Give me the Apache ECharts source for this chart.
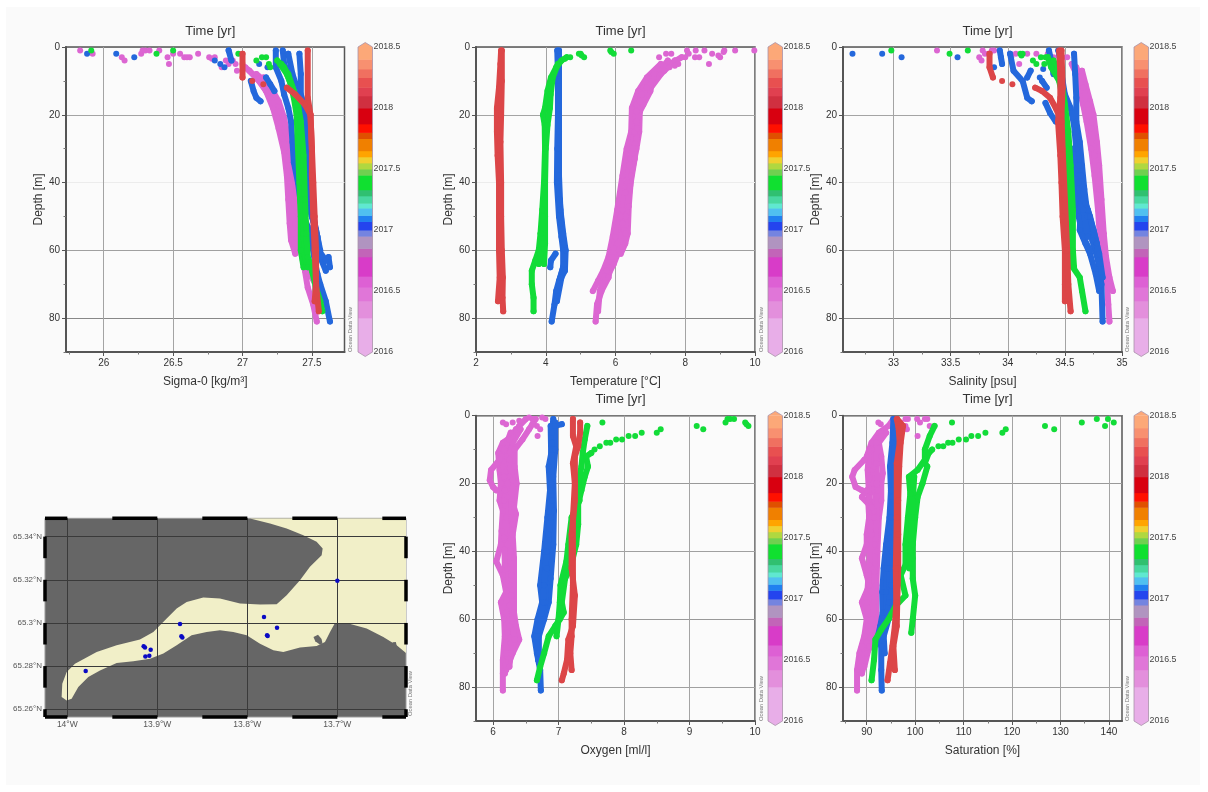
<!DOCTYPE html>
<html><head><meta charset="utf-8">
<style>
html,body{margin:0;padding:0;background:#fff}
#back{position:absolute;left:6px;top:7px;width:1194px;height:778px;background:#fafafa}
#chart{position:absolute;left:0;top:0;width:1208px;height:792px;filter:blur(0.45px)}
</style>
<script src="https://cdn.jsdelivr.net/npm/echarts@6/dist/echarts.min.js"></script>
</head><body><div id="back"></div><div id="chart"></div>
<script>
// ---- Sigma-0 profiles: [value, depth]
const sigmaPink=[
[[27.02,6],[27.1,9],[27.17,13],[27.22,18],[27.26,24],[27.3,31],[27.32,38],[27.33,45],[27.34,52],[27.35,57],[27.38,61]],
[[27.1,8],[27.19,11],[27.26,16],[27.3,21],[27.33,27],[27.36,34],[27.38,40],[27.39,47],[27.4,54],[27.42,60],[27.45,66],[27.47,71],[27.51,76],[27.535,81]],
[[27.15,9],[27.22,14],[27.27,19],[27.31,25],[27.34,31],[27.36,38],[27.37,46],[27.37,55],[27.4,60]],
[[27.05,7],[27.14,11],[27.2,15],[27.25,21],[27.29,27],[27.33,35],[27.35,42],[27.36,50],[27.37,58]],
[[27.46,66],[27.5,68],[27.55,72]]];
const sigmaPinkDots=[[25.83,1],[25.92,2],[26.13,3],[26.15,4],[26.27,2],[26.28,1],[26.3,1],[26.33,1],[26.4,1],[26.46,3],[26.47,5],[26.5,2],[26.55,2],[26.58,3],[26.6,3],[26.62,3],[26.68,2],[26.76,3],[26.78,3.5],[26.8,3],[26.85,6],[26.88,4],[26.9,5],[26.93,4],[26.95,5],[26.96,7],[27.0,5]];
const sigmaBlue=[
[[27.24,1],[27.24,6],[27.28,10],[27.3,14],[27.33,18],[27.35,22],[27.36,28],[27.37,34],[27.4,40],[27.42,46],[27.44,50],[27.47,53],[27.5,58],[27.52,63],[27.54,67],[27.56,70],[27.6,75],[27.63,81]],
[[27.29,1],[27.3,5],[27.35,10],[27.38,15],[27.4,20],[27.42,26],[27.44,33],[27.46,40],[27.47,46],[27.5,50],[27.54,56],[27.56,62],[27.6,66]],
[[27.33,2],[27.36,8],[27.4,13],[27.44,18],[27.46,22],[27.46,30],[27.47,38],[27.48,45],[27.5,50],[27.53,54],[27.55,60],[27.6,63],[27.62,62],[27.63,65]],
[[27.41,2],[27.42,8],[27.42,14],[27.45,18],[27.47,24],[27.48,30],[27.49,40],[27.5,47],[27.52,52],[27.56,60]],
[[27.06,10],[27.08,13],[27.1,15],[27.13,16]],
[[27.17,9],[27.2,11],[27.23,13]],
[[26.9,1],[26.92,4]]];
const sigmaBlueDots=[[26.09,2],[26.22,3],[25.88,2],[26.8,4],[26.84,5],[26.87,6],[27.12,5],[27.18,6]];
const sigmaGreen=[
[[27.25,4],[27.3,6],[27.34,10],[27.37,15],[27.39,20],[27.4,30],[27.41,40],[27.42,50],[27.42,60],[27.44,65]],
[[27.27,5],[27.32,8],[27.36,12],[27.39,17],[27.41,25],[27.42,35],[27.43,45],[27.44,55],[27.45,62],[27.47,65]],
[[27.28,5],[27.33,8],[27.37,13],[27.4,17],[27.42,22],[27.44,32],[27.45,45],[27.46,55],[27.47,62],[27.5,65]],
[[27.5,66],[27.53,71],[27.56,75],[27.575,78]]];
const sigmaGreenDots=[[25.91,1],[26.38,2],[26.5,1],[27.1,4],[27.14,3],[27.17,3],[26.97,2],[27.19,5],[27.2,6]];
const sigmaRed=[
[[27.0,2],[27.0,9]],
[[27.47,1],[27.47,15],[27.49,20],[27.5,30],[27.51,40],[27.52,50],[27.53,60],[27.53,70],[27.52,75]],
[[27.32,12],[27.38,14],[27.45,17],[27.49,20],[27.5,30],[27.5,38],[27.51,50],[27.52,60],[27.53,70],[27.55,78]]];
const sigmaRedDots=[[27.07,10],[27.15,11]];

// ---- Temperature profiles
const tempPink=[
[[7.3,5],[6.9,9],[6.65,13],[6.47,18],[6.45,25],[6.32,30],[6.2,38],[6.05,48],[5.92,56],[5.8,62],[5.65,66],[5.5,69],[5.35,72]],
[[7.5,4],[7.1,9],[6.8,12],[6.7,18],[6.68,25],[6.6,30],[6.45,38],[6.38,47],[6.35,55],[6.28,58],[6.15,61]],
[[7.3,7],[7.05,10],[7.0,13],[6.8,17],[6.7,19]],
[[7.7,4],[7.3,8],[6.8,15],[6.6,22],[6.5,30],[6.35,40],[6.2,48],[6.0,56],[5.85,65],[5.8,68],[5.6,72],[5.47,76],[5.43,81]],
[[7.9,3],[7.1,8],[6.6,17],[6.55,25],[6.4,35],[6.3,43],[6.2,52],[6.1,60],[5.95,64],[5.7,69]],
[[7.0,11],[6.75,14],[6.6,19],[6.6,27],[6.43,33],[6.28,43],[6.15,50],[6.25,54],[6.05,58],[5.9,62],[5.75,66],[5.55,72],[5.5,78]],
[[7.45,6],[6.9,12],[6.7,16],[6.62,24],[6.55,33],[6.42,41],[6.3,50],[6.28,55],[6.2,59]]];
const tempPinkDots=[[9.98,1],[9.43,1],[9.12,1],[9.1,1.5],[9.0,3],[8.95,2.5],[8.77,2],[8.68,5],[8.55,1],[8.4,3],[8.3,1],[8.28,3],[8.05,1],[8.1,2],[8.0,3],[7.6,2],[7.45,2],[7.25,3],[7.8,5],[7.7,5.5],[7.55,6],[7.4,7]];
const tempBlue=[
[[4.33,1],[4.35,8],[4.35,20],[4.33,30],[4.32,40],[4.38,50],[4.45,56],[4.5,60],[4.5,65],[4.38,69],[4.3,72],[4.25,76],[4.17,81]],
[[4.38,1],[4.38,10],[4.38,25],[4.38,38],[4.42,48],[4.5,55],[4.57,60],[4.55,66],[4.45,68],[4.32,75]],
[[4.4,45],[4.45,52],[4.52,58],[4.52,64],[4.42,68]],
[[4.28,61],[4.15,63],[4.13,65]]];
const tempBlueDots=[];
const tempGreen=[
[[4.6,3],[4.45,4],[4.3,6],[4.15,9],[4.05,13],[3.98,18],[3.92,20],[3.97,23],[3.98,30],[3.95,40],[3.9,48],[3.85,55],[3.8,60],[3.7,63],[3.6,66],[3.6,70],[3.65,74],[3.65,78]],
[[4.35,5],[4.2,9],[4.14,14],[4.12,18],[4.05,23],[4.0,30],[3.98,40],[3.98,50],[3.98,58],[3.95,64]],
[[3.92,50],[3.9,58],[3.85,61],[3.8,64]]];
const tempGreenDots=[[5.0,2],[5.03,2.5],[5.1,3],[4.95,2],[4.7,3],[4.55,3.5],[5.85,1],[5.88,1.5],[5.95,2],[6.45,1]];
const tempRed=[
[[2.72,1],[2.7,5],[2.66,12],[2.6,18],[2.6,25],[2.62,32],[2.66,40],[2.66,50],[2.66,60],[2.68,68],[2.63,75]],
[[2.74,1],[2.74,10],[2.72,20],[2.7,28],[2.72,40],[2.72,50],[2.74,60],[2.77,68],[2.76,74],[2.78,78]]];
const tempRedDots=[];

// ---- Salinity profiles
const salPink=[
[[34.56,5],[34.6,8],[34.63,13],[34.66,17],[34.69,22],[34.73,30],[34.76,38],[34.79,48],[34.81,58],[34.84,64],[34.87,70],[34.88,76],[34.89,81]],
[[34.65,7],[34.68,11],[34.72,16],[34.75,20],[34.78,28],[34.8,35],[34.82,45],[34.84,55],[34.86,62],[34.89,68],[34.92,72]],
[[34.6,6],[34.66,12],[34.7,17],[34.73,24],[34.76,32],[34.8,42],[34.82,52],[34.84,60],[34.87,66],[34.89,71]]];
const salPinkDots=[[33.38,1],[33.75,3],[33.77,4],[33.78,1],[33.8,2],[33.83,2],[33.86,1],[33.88,1],[34.02,2],[34.03,3],[34.07,2],[34.1,5],[34.17,2],[34.25,2],[34.35,2],[34.4,3],[34.48,3],[34.52,3]];
const salBlue=[
[[34.58,2],[34.59,8],[34.6,15],[34.6,22],[34.63,28],[34.65,35],[34.67,42],[34.7,50],[34.74,57],[34.79,63],[34.82,70],[34.83,81]],
[[34.45,2],[34.47,8],[34.5,14],[34.55,18],[34.58,23],[34.6,30],[34.62,38],[34.64,47],[34.63,54],[34.68,58],[34.72,61],[34.77,67],[34.8,72]],
[[34.36,1],[34.38,4],[34.4,8]],
[[34.33,16.5],[34.37,19.5],[34.42,22]],
[[34.6,25],[34.62,35],[34.66,45],[34.7,48],[34.75,54],[34.8,61],[34.83,68]],
[[34.57,30],[34.6,40],[34.62,50],[34.66,56],[34.72,60]],
[[34.62,40],[34.66,48],[34.7,56]],
[[34.64,38],[34.68,46],[34.72,50],[34.78,58],[34.8,64]],
[[33.93,1],[33.94,3],[33.95,5]],
[[34.02,2],[34.05,7],[34.13,10],[34.17,15],[34.21,16]],
[[34.2,7],[34.17,9]],
[[34.3,10],[34.34,12]]];
const salBlueDots=[[32.64,2],[32.9,2],[33.07,3],[33.56,3],[34.28,9],[34.31,6.5],[33.88,6],[34.44,1]];
const salGreen=[
[[34.35,3],[34.38,6],[34.45,10],[34.48,15],[34.5,20],[34.52,30],[34.53,40],[34.54,50],[34.55,60],[34.57,65],[34.63,68],[34.65,72],[34.68,78]],
[[34.4,4],[34.47,10],[34.5,17],[34.53,25],[34.55,35],[34.57,48],[34.57,60],[34.58,65]]];
const salGreenDots=[[32.98,1],[33.49,2],[33.65,1],[34.11,2],[34.12,2.5],[34.13,2],[34.22,4],[34.29,3],[34.33,3],[34.25,5],[34.32,5]];
const salRed=[
[[34.45,1],[34.46,8],[34.46,15],[34.44,22],[34.46,32],[34.47,40],[34.48,50],[34.5,60],[34.5,70],[34.5,75]],
[[34.47,1],[34.48,12],[34.47,20],[34.48,30],[34.5,45],[34.52,60],[34.53,70],[34.55,78]],
[[33.84,2],[33.84,6],[33.87,9]],
[[34.24,12],[34.3,13],[34.37,15],[34.42,18],[34.47,22]]];
const salRedDots=[[33.95,10],[34.04,11]];

// ---- Oxygen profiles
const oxyPink=[
[[6.5,1],[6.4,3],[6.3,6],[6.15,8],[6.08,11],[6.1,16],[6.12,20],[6.1,25],[6.15,28],[6.13,34],[6.12,38],[6.05,43],[6.15,47],[6.2,52],[6.12,55],[6.17,60],[6.18,65],[6.15,72],[6.15,76],[6.15,81]],
[[6.65,1],[6.55,4],[6.45,7],[6.33,10],[6.33,15],[6.36,20],[6.32,27],[6.35,29],[6.3,35],[6.32,42],[6.32,50],[6.32,58],[6.35,62],[6.4,66],[6.3,70],[6.2,75]],
[[6.35,4],[6.22,8],[6.2,12],[6.25,18],[6.22,24],[6.25,30],[6.22,38],[6.22,45],[6.25,50],[6.25,56],[6.25,62],[6.27,67],[6.22,71]],
[[6.42,4],[6.3,8],[6.25,13],[6.3,19],[6.28,26],[6.3,32],[6.27,40],[6.28,47],[6.28,53],[6.29,60],[6.33,66],[6.27,70],[6.25,74]],
[[6.25,7],[6.13,12],[6.17,18],[6.18,22],[6.2,30],[6.17,36],[6.18,44],[6.2,49],[6.2,58],[6.22,64],[6.2,70],[6.18,76]],
[[6.1,13],[5.97,16],[5.95,19],[6.0,21],[6.05,22]],
[[6.27,5],[6.17,10],[6.15,15],[6.22,20],[6.17,25]]];
const oxyPinkDots=[[6.15,2],[6.2,2.5],[6.3,2],[6.4,1.5],[6.55,0.5],[6.6,1],[6.67,3],[6.75,0.5],[6.68,6],[6.72,4],[6.8,1],[6.6,2.5]];
const oxyBlue=[
[[6.92,1],[6.9,5],[6.9,10],[6.85,15],[6.87,22],[6.83,30],[6.78,40],[6.72,50],[6.75,55],[6.68,60],[6.63,65],[6.67,70],[6.72,75],[6.73,81]],
[[6.95,2],[6.95,10],[6.92,18],[6.93,28],[6.92,38],[6.88,48],[6.85,55],[6.78,60],[6.7,65],[6.7,70]],
[[6.88,3],[6.9,25],[6.85,35],[6.82,45],[6.8,55],[6.72,62]],
[[6.9,8],[6.88,20],[6.88,30],[6.82,40],[6.78,50],[6.77,55],[6.72,60],[6.66,65],[6.69,72]],
[[6.95,3],[7.05,2.5]]];
const oxyBlueDots=[];
const oxyGreen=[
[[7.5,11],[7.42,12],[7.45,15],[7.4,18],[7.35,22],[7.3,26],[7.3,32],[7.27,38],[7.18,45],[7.1,48],[7.05,55],[7.08,58],[7.02,60],[6.95,62],[6.85,65],[6.78,70],[6.72,74],[6.67,78]],
[[7.44,3],[7.4,7],[7.37,11],[7.35,15],[7.3,20],[7.32,25],[7.2,30],[7.15,38],[7.12,43],[7.03,50],[7.02,55],[7.0,60],[6.97,65]]];
const oxyGreenDots=[[9.9,3],[9.87,2.5],[9.85,2],[9.68,1],[9.62,1],[9.58,1],[9.55,2],[9.21,4],[9.11,3],[8.56,4],[8.5,5],[8.27,5],[8.17,6],[8.07,6],[7.97,7],[7.88,7],[7.79,8],[7.73,8],[7.63,9],[7.55,10],[7.67,2]];
const oxyRed=[
[[7.22,1],[7.22,6],[7.27,9],[7.22,14],[7.25,20],[7.22,30],[7.22,40],[7.22,50],[7.2,60],[7.2,65],[7.18,70],[7.2,75]],
[[7.33,2],[7.33,5],[7.3,9],[7.25,12],[7.25,25],[7.2,35],[7.2,45],[7.25,53],[7.22,62],[7.15,66],[7.13,72],[7.08,76],[7.05,78]]];
const oxyRedDots=[];

// ---- Saturation profiles
const satPink=[
[[95.5,1],[94.5,3],[92.5,5],[91,8],[90,12],[91,16],[91.3,20],[90.3,25],[90.5,30],[90,35],[90,38],[89,42],[90,47],[90.5,50],[89,55],[90,60],[89.5,65],[88.5,70],[88,75],[88,81]],
[[94,5],[92.5,8],[93,12],[93.3,17],[93,20],[93,25],[92.5,30],[92.2,40],[92,50],[92,60],[91.5,66],[90,70],[89,76]],
[[93,6],[91,10],[91.5,15],[92,20],[91.5,28],[91,35],[91,45],[91,52],[91,60],[90,67],[89,72]],
[[92,8],[92,14],[92.3,22],[92,30],[91.7,38],[91.6,46],[91.5,55],[91,63],[90.5,68],[89.5,74]],
[[90.5,10],[90.2,16],[90.5,24],[90.7,34],[90.5,44],[90,55],[90.3,62],[89,68],[88.7,74]],
[[89.5,13],[87.5,16],[87,18],[87.7,21],[89,22]],
[[90,22],[89,24],[91,27],[91.5,30]]];
const satPinkDots=[[92.4,2],[92.9,2.5],[98,1],[98.5,1],[98,3],[98.3,4],[97,3],[100.4,1],[101,2],[102,1],[102.5,1],[103,3],[100.5,6],[97,2]];
const satBlue=[
[[95.5,1],[95.3,8],[94.8,15],[95,22],[94.7,30],[94,38],[93.5,45],[93.2,52],[93.3,58],[92.8,62],[92.3,65],[93,68],[93,75],[93.1,81]],
[[95.8,5],[95.8,15],[95.6,25],[95.6,33],[95.2,40],[95,50],[95,55],[94.5,60],[93.5,65],[93.7,70]],
[[95,30],[94.5,38],[94.2,45],[94,52],[94,58]],
[[95.3,24],[94.9,36],[94.7,45],[94.6,55],[94,61]]];
const satBlueDots=[];
const satGreen=[
[[103.5,10],[102.8,11],[102,14],[102.5,15],[101.5,20],[100.5,24],[100,30],[99.5,38],[99.5,42],[99.5,48],[100,53],[99.5,60],[99.2,64]],
[[104,3],[103,6],[102,10],[102,13],[100.5,16],[98.7,18],[99,23],[98.5,30],[98,38],[98,44],[97,47],[98,53],[96,56],[94.5,60],[93,63],[91.8,66],[91.5,72],[91,78]],
[[99.8,18],[99.3,30],[99,40],[98.8,45]]];
const satGreenDots=[[141,2],[139.8,1],[139.2,3],[137.5,1],[134.4,2],[128.7,4],[126.8,3],[118.7,4],[118,5],[114.5,5],[113,6],[111.6,6],[110.5,7],[109,7],[107.7,8],[106.8,8],[105.8,9],[104.8,9],[107.6,2]];
const satRed=[
[[96.3,1],[97.5,3],[97,8],[96.7,15],[96.5,25],[96.5,35],[96.5,45],[96.3,55],[96.2,62],[95.5,68],[95.8,75]],
[[96.5,2],[96.8,8],[96.2,14],[96.2,30],[96,45],[96.1,55],[95.8,62],[95.3,68],[94.8,73],[94.3,78]],
[[96.2,1],[96.8,5]]];
const satRedDots=[];

// ---- Axis ticks
const depthTicks=[0,20,40,60,80], depthMinor=[10,30,50,70,90];
const sigmaTicks=[26,26.5,27,27.5], sigmaMinor=[25.75,26.25,26.75,27.25];
const tempTicks=[2,4,6,8,10], tempMinor=[3,5,7,9];
const salTicks=[33,33.5,34,34.5,35], salMinor=[32.75,33.25,33.75,34.25,34.75];
const oxyTicks=[6,7,8,9,10], oxyMinor=[6.5,7.5,8.5,9.5];
const satTicks=[90,100,110,120,130,140], satMinor=[85.5,95,105,115,125,135];
const lonTicks=[-14,-13.9,-13.8,-13.7], latTicks=[65.26,65.28,65.3,65.32,65.34];

// ---- Colour scale
const timeTicks=[2016,2016.5,2017,2017.5,2018,2018.5];
const timeStops=[2016,2016.28,2016.42,2016.53,2016.62,2016.78,2016.85,2016.95,2017,2017.07,2017.12,2017.18,2017.22,2017.28,2017.33,2017.45,2017.5,2017.55,2017.6,2017.65,2017.75,2017.8,2017.87,2018,2018.1,2018.17,2018.25,2018.32,2018.4,2018.5];
const timeColors=['#e8aee8','#e38fdc','#e076d8','#dd60d4','#d83cc8','#c264b8','#b094c0','#7484e0','#2444ee','#2080f0','#50c0f0','#60e8d0','#48d8a0','#30c070','#10e030','#70d050','#b0d840','#f0d030','#ffa400','#f08000','#e05000','#ff1000','#d80010','#d03040','#e04050','#e85050','#f07060','#f89070','#fca878'];
const cruiseColors={pink:'#dc66d2',blue:'#2468dc',green:'#12dc38',red:'#dc4648'};

// ---- Station map (lon, lat)
const waterLon=[-13.797,-13.7748,-13.7563,-13.7378,-13.723,-13.7163,-13.7174,-13.7304,-13.7415,-13.7563,-13.7674,-13.7859,-13.8081,-13.8304,-13.8489,-13.8674,-13.8785,-13.8896,-13.9044,-13.9193,-13.9452,-13.9674,-13.9915,-14.0007,-14.0056,-14.0063,-14.0007,-13.9952,-13.9878,-13.9767,-13.9637,-13.9452,-13.9267,-13.9081,-13.8933,-13.8785,-13.8619,-13.8452,-13.8304,-13.8156,-13.8007,-13.7859,-13.7711,-13.76,-13.7415,-13.723,-13.7137,-13.7081,-13.7026,-13.6896,-13.6674,-13.6489,-13.6341,-13.6237,-13.6237];
const waterLat=[65.3484,65.3461,65.3438,65.3407,65.3376,65.3345,65.3314,65.326,65.3198,65.3128,65.3087,65.3085,65.309,65.3113,65.3118,65.3097,65.3067,65.302,65.2958,65.2923,65.2896,65.2865,65.2811,65.2773,65.2718,65.2657,65.2641,65.2649,65.2703,65.2749,65.278,65.2814,65.2822,65.2834,65.2858,65.2896,65.2943,65.2958,65.2966,65.2958,65.2943,65.2904,65.2873,65.2865,65.2886,65.2893,65.2912,65.2958,65.3,65.3,65.2974,65.2935,65.2896,65.2861,65.3484];
const islandLon=[[-13.7265,-13.7215,-13.7175,-13.7165,-13.7195,-13.7245],[-13.6385,-13.6350,-13.6340,-13.6365,-13.6395]];
const islandLat=[[65.2935,65.2945,65.2925,65.2905,65.29,65.2915],[65.2910,65.2912,65.2895,65.2885,65.2895]];
const stationLon=[-13.9796,-13.9152,-13.9137,-13.9074,-13.9133,-13.9089,-13.8748,-13.8733,-13.8722,-13.7815,-13.767,-13.7781,-13.7774,-13.7];
const stationLat=[65.2777,65.2892,65.2886,65.2876,65.2845,65.2848,65.2995,65.2938,65.2933,65.3028,65.2978,65.2943,65.294,65.3196];
const frameLonBlack=[[-14.0248,-14],[-13.95,-13.9],[-13.85,-13.8],[-13.75,-13.7],[-13.65,-13.6237]];
const frameLatBlack=[[65.34,65.33],[65.32,65.31],[65.3,65.29],[65.28,65.27],[65.26,65.2564]];

const panels=[
 {name:'Sigma-0 [kg/m³]',xr:[25.728,27.735],ticks:sigmaTicks,minor:sigmaMinor,l:66,r:344.5,t:47,b:352,bar:358,odv:350,gap:18,sets:[sigmaPink,sigmaPinkDots,sigmaBlue,sigmaBlueDots,sigmaGreen,sigmaGreenDots,sigmaRed,sigmaRedDots]},
 {name:'Temperature [°C]',xr:[2,10],ticks:tempTicks,minor:tempMinor,l:476,r:755,t:47,b:352,bar:768,odv:761,gap:17,sets:[tempPink,tempPinkDots,tempBlue,tempBlueDots,tempGreen,tempGreenDots,tempRed,tempRedDots]},
 {name:'Salinity [psu]',xr:[32.557,35],ticks:salTicks,minor:salMinor,l:843,r:1122,t:47,b:352,bar:1134,odv:1127,gap:18,sets:[salPink,salPinkDots,salBlue,salBlueDots,salGreen,salGreenDots,salRed,salRedDots]},
 {name:'Oxygen [ml/l]',xr:[5.74,10],ticks:oxyTicks,minor:oxyMinor,l:476,r:755,t:415.7,b:721,bar:768,odv:761,gap:17,sets:[oxyPink,oxyPinkDots,oxyBlue,oxyBlueDots,oxyGreen,oxyGreenDots,oxyRed,oxyRedDots]},
 {name:'Saturation [%]',xr:[85.1,142.7],ticks:satTicks,minor:satMinor,l:843,r:1122,t:415.7,b:721,bar:1134,odv:1127,gap:18,sets:[satPink,satPinkDots,satBlue,satBlueDots,satGreen,satGreenDots,satRed,satRedDots]}
];

const FONT='"Liberation Sans",Arial,sans-serif';
const grids=[],xAxes=[],yAxes=[],series=[],titles=[],graphics=[];
const cruiseOrder=['pink','blue','green','red'];
const FULLW=1208,FULLH=792;

function odvText(x,yBottom){
  graphics.push({type:'text',x:x,y:yBottom,rotation:Math.PI/2,silent:true,
    style:{text:'Ocean Data View',fontSize:5.8,fontFamily:FONT,fill:'#777'}});
}

panels.forEach(function(p,i){
  const g=grids.length;
  const topRow=p.t<100;
  grids.push({left:p.l,top:p.t,width:p.r-p.l,height:p.b-p.t,show:true,backgroundColor:'#fbfbfb',borderColor:'#555',borderWidth:1.5});
  const xi=xAxes.length, yi=yAxes.length;
  xAxes.push({gridIndex:g,type:'value',position:'bottom',min:p.xr[0],max:p.xr[1],name:p.name,nameLocation:'middle',nameGap:24,
    nameTextStyle:{fontSize:12,fontFamily:FONT,color:'#333'},
    axisLine:{show:true,onZero:false,lineStyle:{color:'#555',width:2}},
    axisTick:{show:true,length:4,customValues:p.ticks,lineStyle:{color:'#555'}},
    axisLabel:{show:true,customValues:p.ticks,margin:6,fontSize:10,fontFamily:FONT,color:'#333'},
    splitLine:{show:true,lineStyle:{color:'#a4a4a4',width:1}}});
  xAxes.push({gridIndex:g,type:'value',position:'bottom',min:p.xr[0],max:p.xr[1],
    axisLine:{show:false,onZero:false},axisTick:{show:true,length:2.5,customValues:p.minor,lineStyle:{color:'#777'}},
    axisLabel:{show:false},splitLine:{show:false}});
  yAxes.push({gridIndex:g,type:'value',position:'left',inverse:true,min:0,max:90,name:'Depth [m]',nameLocation:'middle',nameGap:p.gap,nameRotate:90,
    nameTextStyle:{fontSize:12,fontFamily:FONT,color:'#333'},
    axisLine:{show:true,onZero:false,lineStyle:{color:'#555',width:2}},
    axisTick:{show:true,length:4,customValues:depthTicks,lineStyle:{color:'#555'}},
    axisLabel:{show:true,customValues:depthTicks,margin:6,fontSize:10,fontFamily:FONT,color:'#333'},
    splitLine:{show:true,lineStyle:{color:topRow?['#777','#a4a4a4','#ececec','#a0a0a0','#888']:['#777','#999','#a0a0a0','#999','#a0a0a0'],width:1}}});
  yAxes.push({gridIndex:g,type:'value',position:'left',inverse:true,min:0,max:90,
    axisLine:{show:false,onZero:false},axisTick:{show:true,length:2.5,customValues:depthMinor,lineStyle:{color:'#777'}},
    axisLabel:{show:false},splitLine:{show:false}});
  cruiseOrder.forEach(function(c,k){
    const color=cruiseColors[c];
    p.sets[k*2].forEach(function(cast){
      series.push({type:'line',xAxisIndex:xi,yAxisIndex:yi,data:cast,symbol:'circle',symbolSize:6,showSymbol:true,
        lineStyle:{color:color,width:6,cap:'round',join:'round'},itemStyle:{color:color},z:2+k,silent:true,clip:false});
    });
    series.push({type:'scatter',xAxisIndex:xi,yAxisIndex:yi,data:p.sets[k*2+1],symbol:'circle',symbolSize:6,itemStyle:{color:color,opacity:1},z:2+k,silent:true,clip:false});
  });
  // colour bar
  const gb=grids.length;
  grids.push({left:p.bar,top:p.t,width:14.5,height:p.b-p.t,show:false});
  const bx=xAxes.length, by=yAxes.length;
  xAxes.push({gridIndex:gb,type:'value',min:0,max:1,show:false});
  yAxes.push({gridIndex:gb,type:'value',position:'right',min:2016,max:2018.5,interval:0.5,
    axisLine:{show:false},axisTick:{show:false},splitLine:{show:false},
    axisLabel:{margin:1,fontSize:8.8,fontFamily:FONT,color:'#444',formatter:function(v){return String(v);}}});
  series.push({type:'custom',xAxisIndex:bx,yAxisIndex:by,silent:true,z:2,
    data:timeColors.map(function(c,j){return [timeStops[j],timeStops[j+1]];}),
    encode:{y:[0,1]},
    renderItem:function(params,api){
      const a=api.coord([0,api.value(0)]), b=api.coord([1,api.value(1)]);
      return {type:'rect',shape:{x:a[0],y:b[1],width:b[0]-a[0],height:a[1]-b[1]+0.5},style:{fill:timeColors[params.dataIndex]}};
    }});
  series.push({type:'custom',xAxisIndex:bx,yAxisIndex:by,silent:true,z:3,
    data:[[2016,2018.5]],encode:{y:[0,1]},
    renderItem:function(params,api){
      const a=api.coord([0,api.value(0)]), b=api.coord([1,api.value(1)]);
      const mid=(a[0]+b[0])/2, tip=4.5;
      return {type:'group',children:[
        {type:'polygon',shape:{points:[[a[0],a[1]],[mid,a[1]+tip],[b[0],a[1]]]},style:{fill:timeColors[0]}},
        {type:'polygon',shape:{points:[[a[0],b[1]],[mid,b[1]-tip],[b[0],b[1]]]},style:{fill:timeColors[timeColors.length-1]}},
        {type:'polygon',shape:{points:[[a[0],a[1]],[mid,a[1]+tip],[b[0],a[1]],[b[0],b[1]],[mid,b[1]-tip],[a[0],b[1]]]},style:{fill:'none',stroke:'#a892a8',lineWidth:0.8}}
      ]};
    }});
  titles.push({text:'Time [yr]',left:(p.l+p.r)/2,top:p.t-27.5,textAlign:'center',textStyle:{fontSize:13,fontWeight:'normal',fontFamily:FONT,color:'#333'}});
  odvText(p.odv-3,p.b);
});

// ---- map
const gm=grids.length;
grids.push({left:45,top:518.3,width:361,height:198.7,show:true,backgroundColor:'#666666',borderWidth:1,borderColor:'#999'});
const mx=xAxes.length,my=yAxes.length;
xAxes.push({gridIndex:gm,type:'value',position:'bottom',min:-14.0248,max:-13.6237,z:5,
  axisLine:{show:false,onZero:false},axisTick:{show:false,customValues:lonTicks},
  axisLabel:{customValues:lonTicks,margin:3,fontSize:8.5,fontFamily:FONT,color:'#555',formatter:function(v){return Math.abs(v)+'°W';}},
  splitLine:{show:true,lineStyle:{color:'#3a3a3a',width:1}}});
yAxes.push({gridIndex:gm,type:'value',position:'left',min:65.2564,max:65.3485,z:5,
  axisLine:{show:false,onZero:false},axisTick:{show:false,customValues:latTicks},
  axisLabel:{customValues:latTicks,margin:3,fontSize:8,fontFamily:FONT,color:'#555',formatter:function(v){return v.toFixed(2).replace(/0$/,'')+'°N';}},
  splitLine:{show:true,lineStyle:{color:'#3a3a3a',width:1}}});
series.push({type:'custom',xAxisIndex:mx,yAxisIndex:my,silent:true,z:2,data:[[waterLon[0],waterLat[0]]],
  renderItem:function(params,api){
    return {type:'polygon',shape:{points:waterLon.map(function(v,j){return api.coord([v,waterLat[j]]);})},style:{fill:'#f1efc8'}};
  }});
series.push({type:'custom',xAxisIndex:mx,yAxisIndex:my,silent:true,z:3,data:islandLon.map(function(a){return [a[0],0];}),
  renderItem:function(params,api){
    const lo=islandLon[params.dataIndex],la=islandLat[params.dataIndex];
    return {type:'polygon',shape:{points:lo.map(function(v,j){return api.coord([v,la[j]]);})},style:{fill:'#666666'}};
  }});
series.push({type:'scatter',xAxisIndex:mx,yAxisIndex:my,data:stationLon.map(function(v,j){return [v,stationLat[j]];}),symbol:'circle',symbolSize:4.5,itemStyle:{color:'#0a0ac4',opacity:1},z:8,silent:true});
series.push({type:'custom',xAxisIndex:mx,yAxisIndex:my,silent:true,z:9,clip:false,data:frameLonBlack,encode:{x:[0,1]},
  renderItem:function(params,api){
    const y0=65.3485,y1=65.2564;const a=api.value(0),b=api.value(1);
    const mk=function(y){const p=api.coord([a,y]),q=api.coord([b,y]);return {type:'line',shape:{x1:p[0],y1:p[1],x2:q[0],y2:q[1]},style:{stroke:'#000',lineWidth:3.5}};};
    return {type:'group',children:[mk(y0),mk(y1)]};
  }});
series.push({type:'custom',xAxisIndex:mx,yAxisIndex:my,silent:true,z:9,clip:false,data:frameLatBlack,encode:{y:[0,1]},
  renderItem:function(params,api){
    const x0=-14.0248,x1=-13.6237;const a=api.value(0),b=api.value(1);
    const mk=function(x){const p=api.coord([x,a]),q=api.coord([x,b]);return {type:'line',shape:{x1:p[0],y1:p[1],x2:q[0],y2:q[1]},style:{stroke:'#000',lineWidth:3.5}};};
    return {type:'group',children:[mk(x0),mk(x1)]};
  }});
odvText(407,716);

const chart=echarts.init(document.getElementById('chart'),null,{renderer:'canvas',width:FULLW,height:FULLH});
chart.setOption({animation:false,backgroundColor:'transparent',title:titles,grid:grids,xAxis:xAxes,yAxis:yAxes,series:series,graphic:graphics,tooltip:{show:false},legend:{show:false}});
</script></body></html>
